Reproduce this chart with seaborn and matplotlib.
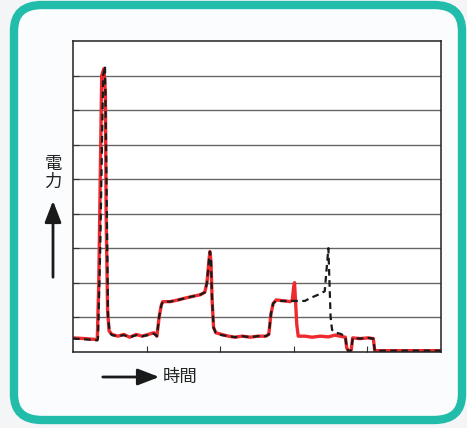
import numpy as np
import pandas as pd
import matplotlib
matplotlib.use("Agg")
import matplotlib.pyplot as plt
import seaborn as sns
from matplotlib.patches import FancyBboxPatch

# power (red, solid) vs time
red_t = [0.00, 0.16, 0.33, 0.35, 0.38, 0.39, 0.42, 0.44, 0.45, 0.47, 0.49, 0.53, 0.61,
         0.69, 0.77, 0.86, 0.94, 1.02, 1.10, 1.14, 1.17, 1.20, 1.22, 1.32, 1.43, 1.52,
         1.62, 1.73, 1.79, 1.82, 1.85, 1.86, 1.875, 1.89, 1.91, 1.94, 2.02, 2.11, 2.20,
         2.30, 2.41, 2.51, 2.62, 2.66, 2.69, 2.72, 2.76, 2.84, 2.95, 2.98, 3.00, 3.01,
         3.02, 3.04, 3.06, 3.15, 3.25, 3.36, 3.47, 3.56, 3.63, 3.70, 3.72, 3.75, 3.78,
         3.80, 3.90, 4.01, 4.08, 4.10, 5.00]
red_p = [0.40, 0.38, 0.35, 2.0, 6.5, 8.0, 8.2, 7.5, 4.0, 1.2, 0.60, 0.50, 0.45,
         0.50, 0.42, 0.50, 0.45, 0.50, 0.55, 0.45, 1.0, 1.35, 1.45, 1.45, 1.50, 1.55,
         1.60, 1.65, 1.72, 2.0, 2.7, 2.9, 2.6, 1.5, 0.70, 0.55, 0.50, 0.45, 0.42,
         0.45, 0.42, 0.45, 0.45, 0.50, 1.1, 1.4, 1.5, 1.48, 1.45, 1.5, 1.9, 2.0,
         1.6, 0.8, 0.45, 0.45, 0.42, 0.45, 0.43, 0.48, 0.45, 0.42, 0.10, 0.0, 0.05,
         0.40, 0.38, 0.40, 0.38, 0.03, 0.03]

# power (black, dashed) vs time
black_t = [0.00, 0.16, 0.33, 0.34, 0.37, 0.41, 0.435, 0.455, 0.476, 0.50, 0.53, 0.61,
           0.69, 0.77, 0.86, 0.94, 1.02, 1.10, 1.14, 1.17, 1.20, 1.22, 1.32, 1.43, 1.52,
           1.62, 1.73, 1.79, 1.82, 1.85, 1.86, 1.875, 1.89, 1.91, 1.94, 2.02, 2.11, 2.20,
           2.30, 2.41, 2.51, 2.62, 2.66, 2.69, 2.72, 2.76, 2.84, 2.95, 3.05, 3.15, 3.22,
           3.33, 3.42, 3.45, 3.47, 3.485, 3.50, 3.52, 3.57, 3.63, 3.70, 3.72, 3.75, 3.78,
           3.80, 3.90, 4.01, 4.08, 4.10, 5.00]
black_p = [0.38, 0.36, 0.33, 0.40, 3.0, 8.0, 8.28, 5.0, 1.0, 0.55, 0.48, 0.45,
           0.48, 0.42, 0.48, 0.45, 0.48, 0.52, 0.45, 1.0, 1.35, 1.45, 1.45, 1.50, 1.55,
           1.60, 1.65, 1.72, 2.0, 2.7, 2.9, 2.6, 1.5, 0.70, 0.55, 0.48, 0.45, 0.42,
           0.45, 0.42, 0.45, 0.45, 0.50, 1.1, 1.4, 1.47, 1.47, 1.47, 1.47, 1.47, 1.55,
           1.65, 1.75, 2.5, 3.0, 2.0, 1.0, 0.63, 0.55, 0.52, 0.45, 0.10, 0.0, 0.05,
           0.40, 0.38, 0.40, 0.38, 0.03, 0.03]

sns.set_style("white")
plt.rcParams['font.family'] = ['Noto Sans CJK JP', 'DejaVu Sans']

fig = plt.figure(figsize=(4.67, 4.28), dpi=100)
fig.patch.set_facecolor("#f3f5f6")

# teal rounded frame (behind the axes)
frame = FancyBboxPatch((14 / 467, 8 / 428), 448 / 467, 415 / 428,
                       boxstyle="round,pad=0,rounding_size=0.06",
                       transform=fig.transFigure, facecolor="#fbfcfd",
                       edgecolor="#22bcaa", linewidth=6, zorder=-5)
fig.patches.append(frame)

ax = fig.add_axes([73 / 467, 76.3 / 428, 368 / 467, 310.7 / 428])
ax.set_facecolor("white")
ax.set_zorder(2)

df_red = pd.DataFrame({"t": red_t, "p": red_p})
df_black = pd.DataFrame({"t": black_t, "p": black_p})

sns.lineplot(data=df_red, x="t", y="p", ax=ax, color="#ee2a2e", linewidth=2.4,
             sort=False, estimator=None)
sns.lineplot(data=df_black, x="t", y="p", ax=ax, color="#1a1a1a", linewidth=1.6,
             sort=False, estimator=None, linestyle=(0, (3, 2)))

ax.set_xlim(0, 5)
ax.set_ylim(0, 9)
ax.set_yticks(np.arange(1, 9))
ax.set_xticks([1, 2, 3, 4])
ax.set_xticklabels([])
ax.set_yticklabels([])
ax.set_xlabel("")
ax.set_ylabel("")
ax.grid(axis="y", color="#666666", linewidth=1.0)
ax.tick_params(direction="in", length=4, width=0.8, colors="#333333", left=True, bottom=True)
for s in ax.spines.values():
    s.set_color("#222222")
    s.set_linewidth(1.1)

# axis labels with arrows
fig.text(53 / 467, 1 - 173 / 428, "電\n力", ha="center", va="center", fontsize=12.5,
         color="#222222", linespacing=1.0)
arrow_style = dict(arrowstyle="-|>,head_length=1.3,head_width=0.5", color="#1a1a1a", lw=2)
ax.annotate("", xy=(53 / 467, 1 - 198 / 428), xytext=(53 / 467, 1 - 280 / 428),
            xycoords="figure fraction", arrowprops=arrow_style, annotation_clip=False)
ax.annotate("", xy=(162 / 467, 1 - 377 / 428), xytext=(100 / 467, 1 - 377 / 428),
            xycoords="figure fraction", arrowprops=arrow_style, annotation_clip=False)
fig.text(163 / 467, 1 - 377 / 428, "時間", ha="left", va="center", fontsize=12.5,
         color="#222222")

fig.savefig("out.png", dpi=100, facecolor=fig.get_facecolor())
